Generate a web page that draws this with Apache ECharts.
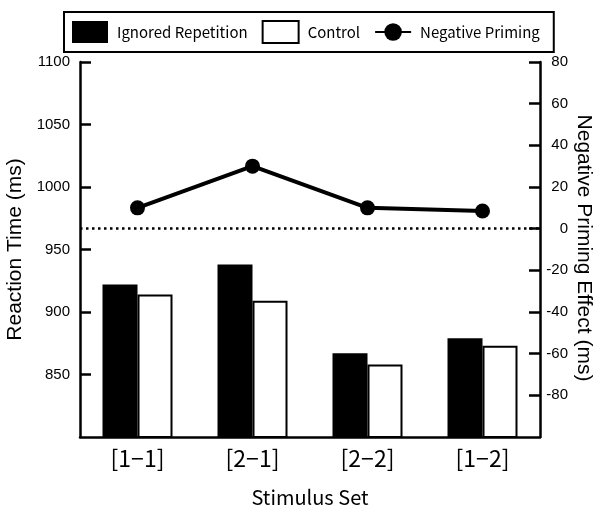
<!DOCTYPE html>
<html>
<head>
<meta charset="utf-8">
<script src="https://cdn.jsdelivr.net/npm/echarts@6/dist/echarts.min.js"></script>
<style>
html,body{margin:0;padding:0;background:#fff;}
#chart{width:596px;height:513px;}
</style>
</head>
<body>
<div id="chart"></div>
<script>
var categories = ['[1\u22121]', '[2\u22121]', '[2\u22122]', '[1\u22122]'];
var ignoredRepetition = [922, 938, 867, 879];
var control = [914, 909, 858, 873];
var negativePriming = [10, 30, 10, 8.5];
var seriesNames = ['Ignored Repetition', 'Control', 'Negative Priming'];
var leftAxisName = 'Reaction Time (ms)';
var rightAxisName = 'Negative Priming Effect (ms)';
var xAxisName = 'Stimulus Set';

var chart = echarts.init(document.getElementById('chart'));
var black = '#000';
var gothic = '"Noto Sans CJK JP", sans-serif';
var sans = '"Liberation Sans", Arial, sans-serif';

chart.setOption({
  animation: false,
  backgroundColor: '#fff',
  grid: { left: 80, right: 56, top: 62, bottom: 76, containLabel: false, outerBoundsMode: 'none' },
  legend: {
    data: [
      { name: seriesNames[0], icon: 'rect' },
      { name: seriesNames[1], icon: 'rect' },
      { name: seriesNames[2] }
    ],
    left: 64, top: 12,
    padding: [8, 14, 8, 8],
    itemGap: 14,
    itemWidth: 36, itemHeight: 22,
    borderColor: black, borderWidth: 2,
    textStyle: { fontFamily: gothic, fontSize: 15, color: black, padding: [0, 0, 0, 4] }
  },
  xAxis: {
    type: 'category',
    data: categories,
    boundaryGap: true,
    axisLine: { onZero: false, lineStyle: { color: black, width: 2.5 } },
    axisTick: { inside: true, length: 10, lineStyle: { color: black, width: 2 } },
    axisLabel: { color: black, fontFamily: gothic, fontSize: 23, margin: 10 },
    name: xAxisName,
    nameLocation: 'middle',
    nameGap: 50,
    nameTextStyle: { color: black, fontFamily: gothic, fontSize: 20 }
  },
  yAxis: [
    {
      type: 'value', min: 800, max: 1100, interval: 50, position: 'left',
      axisLine: { show: true, onZero: false, lineStyle: { color: black, width: 2.5 } },
      axisTick: { show: true, inside: true, length: 11, lineStyle: { color: black, width: 2.5 } },
      axisLabel: { color: black, fontFamily: sans, fontSize: 15, margin: 10, showMinLabel: false,
        formatter: function (v) { return String(v); } },
      splitLine: { show: false },
      name: leftAxisName, nameLocation: 'middle', nameGap: 47,
      nameTextStyle: { color: black, fontFamily: sans, fontSize: 21 }
    },
    {
      type: 'value', min: -100, max: 80, interval: 20, position: 'right',
      axisLine: { show: true, onZero: false, lineStyle: { color: black, width: 2.5 } },
      axisTick: { show: true, inside: true, length: 11, lineStyle: { color: black, width: 2.5 } },
      axisLabel: { color: black, fontFamily: sans, fontSize: 15, margin: 28, align: 'right', showMinLabel: false,
        formatter: function (v) { return String(v); } },
      splitLine: { show: false }
    }
  ],
  graphic: [{
    type: 'text',
    x: 584, y: 248,
    rotation: -Math.PI / 2,
    style: {
      text: rightAxisName,
      fontFamily: sans, fontSize: 21, fill: black,
      align: 'center', verticalAlign: 'middle'
    }
  }],
  series: [
    {
      name: seriesNames[0], type: 'bar', yAxisIndex: 0,
      data: ignoredRepetition, barWidth: 35, barGap: '0%',
      itemStyle: { color: black, borderColor: black, borderWidth: 0 }
    },
    {
      name: seriesNames[1], type: 'bar', yAxisIndex: 0,
      data: control, barWidth: 35, barGap: '0%',
      itemStyle: { color: '#fff', borderColor: black, borderWidth: 2 }
    },
    {
      name: seriesNames[2], type: 'line', yAxisIndex: 1,
      data: negativePriming,
      symbol: 'circle', symbolSize: 15,
      lineStyle: { color: black, width: 4 },
      itemStyle: { color: black },
      z: 5,
      markLine: {
        silent: true, symbol: ['none', 'none'], label: { show: false },
        emphasis: { disabled: true },
        lineStyle: { color: black, width: 2.5, type: [2.5, 3.5] },
        data: [{ yAxis: 0 }]
      }
    }
  ]
});
</script>
</body>
</html>
